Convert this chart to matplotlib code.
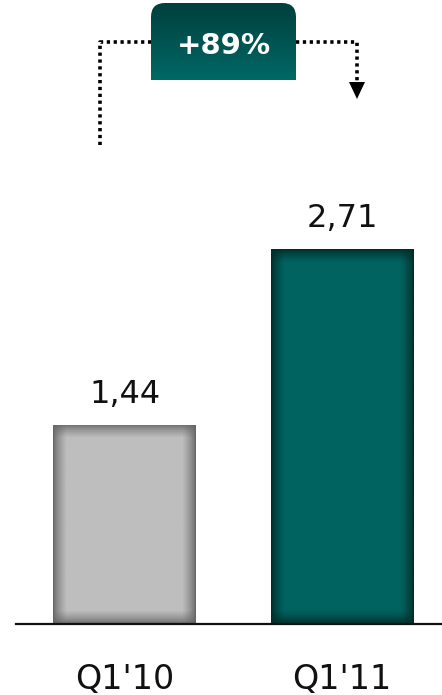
import numpy as np
import matplotlib
matplotlib.use("Agg")
import matplotlib.pyplot as plt
from matplotlib.path import Path
from matplotlib.patches import PathPatch, Polygon
from matplotlib.colors import to_rgb

categories = ["Q1'10", "Q1'11"]
values = [1.44, 2.71]
value_labels = ["1,44", "2,71"]
growth_label = "+89%"

bar_colors = ["#BEBEBE", "#00635F"]
edge_colors = ["#666666", "#002C2A"]

W, H = 442, 695
fig = plt.figure(figsize=(W / 100, H / 100), dpi=100)

# main axes: baseline at y=624 px, spanning x 16..442 px
ax = fig.add_axes([16 / W, (H - 624) / H, 426 / W, 624 / H])
x = np.arange(len(categories))
bars = ax.bar(x, values, width=0.657, color=bar_colors, zorder=2)
ax.set_xlim(-0.499, 1.46)
ax.set_ylim(0, 4.515)

# inner-shadow shading on each bar
for b, c, e in zip(bars, bar_colors, edge_colors):
    x0, y0 = b.get_x(), b.get_y()
    w, h = b.get_width(), b.get_height()
    p0 = ax.transData.transform((x0, y0))
    p1 = ax.transData.transform((x0 + w, y0 + h))
    pw, ph = int(abs(p1[0] - p0[0])), int(abs(p1[1] - p0[1]))
    xx = np.arange(pw)
    yy = np.arange(ph)
    dx = np.minimum(xx, pw - 1 - xx)[None, :].astype(float)
    dy = np.minimum(yy, ph - 1 - yy)[:, None].astype(float)
    tx = np.clip(dx / 13.0, 0, 1) ** 0.7
    ty = np.clip(dy / 13.0, 0, 1) ** 0.7
    t = tx * ty
    cc = np.array(to_rgb(c))
    ee = np.array(to_rgb(e))
    img = ee[None, None, :] * (1 - t[..., None]) + cc[None, None, :] * t[..., None]
    im = ax.imshow(img, extent=(x0, x0 + w, y0, y0 + h), aspect="auto",
                   interpolation="bilinear", zorder=3, origin="lower")
    im.set_clip_path(b)

for xi, v, lab in zip(x, values, value_labels):
    ax.annotate(lab, (xi, v), xytext=(0, 16), textcoords="offset points",
                ha="center", va="baseline", fontsize=23, color="#111111",
                family="DejaVu Sans")

ax.set_xticks(x)
ax.set_xticklabels(categories, fontsize=24, family="DejaVu Sans", color="#111111")
ax.tick_params(axis="x", length=0, pad=28)
ax.set_yticks([])
for s in ["top", "right", "left"]:
    ax.spines[s].set_visible(False)
ax.spines["bottom"].set_linewidth(1.6)
ax.spines["bottom"].set_color("#111111")
ax.spines["bottom"].set_zorder(5)
ax.patch.set_alpha(0)

# overlay axes in pixel coordinates for annotation graphics
ov = fig.add_axes([0, 0, 1, 1])
ov.set_xlim(0, W)
ov.set_ylim(H, 0)
ov.axis("off")
ov.patch.set_alpha(0)

dot = dict(color="black", linewidth=2.6, linestyle=(0, (0.9, 1.0)))
ov.plot([100, 100, 151], [145, 42, 42], **dot)
ov.plot([296, 357, 357], [42, 42, 84], **dot)
ov.add_patch(Polygon([[349, 82], [365, 82], [357, 99]], closed=True,
                     facecolor="black", edgecolor="none"))

# rounded-top box with vertical gradient
L, R, T, B, r = 151, 296, 3, 80, 14
verts = [(L, B), (L, T + r), (L, T), (L + r, T), (R - r, T), (R, T), (R, T + r), (R, B), (L, B)]
codes = [Path.MOVETO, Path.LINETO, Path.CURVE3, Path.CURVE3, Path.LINETO,
         Path.CURVE3, Path.CURVE3, Path.LINETO, Path.CLOSEPOLY]
box = PathPatch(Path(verts, codes), facecolor="none", edgecolor="none")
ov.add_patch(box)
top_c = np.array(to_rgb("#00403D"))
bot_c = np.array(to_rgb("#006865"))
g = np.linspace(0, 1, 100)[:, None, None]
grad = top_c * (1 - g) + bot_c * g
grad = np.repeat(grad, 2, axis=1)
gim = ov.imshow(grad, extent=(L, R, B, T), aspect="auto", interpolation="bilinear", zorder=2)
gim.set_clip_path(box)
ov.text((L + R) / 2, 46, growth_label, ha="center", va="center", fontsize=21,
        fontweight="bold", color="white", family="DejaVu Sans", zorder=3)

fig.savefig("out.png", dpi=100)
